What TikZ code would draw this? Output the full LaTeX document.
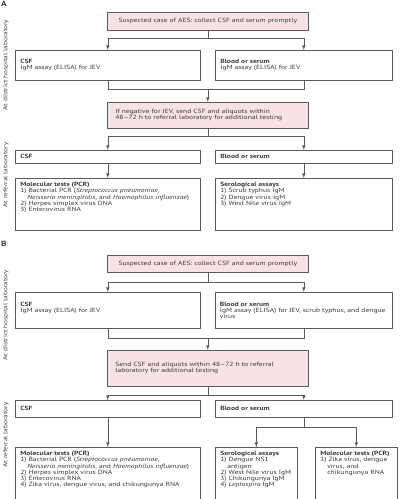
\documentclass[tikz,border=0pt]{standalone}
\usepackage{fontspec}
\setmainfont[FakeStretch=1.25]{PT Sans}
\usetikzlibrary{positioning,calc}
\definecolor{alertpink}{HTML}{F9E2E5}
\definecolor{boxline}{HTML}{5A5A5A}
\definecolor{inkgray}{HTML}{3A3A3A}
\newcommand{\toptext}[3]{\parbox[t][#2][t]{#1}{\raggedright #3}}

\begin{document}
\begin{tikzpicture}[x=1pt, y=-1pt, >=latex,
  every node/.style={font=\fontsize{6.05}{6.2}\selectfont, text=inkgray},
  labbox/.style={draw=boxline, fill=white, line width=0.6pt, anchor=north west,
    align=left, inner xsep=5pt, inner ysep=0pt},
  listbox/.style={draw=boxline, fill=white, line width=0.6pt, anchor=north west,
    inner xsep=5pt, inner ysep=4pt},
  alertbox/.style={draw=boxline, fill=alertpink, line width=0.6pt, anchor=north west,
    minimum width=201pt, inner xsep=8pt, inner ysep=0pt},
  sidelabel/.style={rotate=90, font=\fontsize{5.8}{6}\selectfont},
  panel/.style={font=\fontsize{7.5}{8}\selectfont\bfseries, anchor=north west, inner sep=0pt},
  link/.style={draw=boxline, line width=0.6pt}]
  \useasboundingbox (0,0) rectangle (400,499);

  % ---------------- panel A ----------------
  \node[panel] (panA) at (1,1) {A};
  \node[sidelabel] (distA) at (6,65) {At district hospital laboratory};
  \node[sidelabel] (refA) at (6,175) {At referral laboratory};

  \node[alertbox, minimum height=18pt] (susA) at (107,12)
    {Suspected case of AES: collect CSF and serum promptly};
  \node[labbox, minimum height=30pt, text width=175pt] (csfA) at (15,50)
    {\textbf{CSF}\\IgM assay (ELISA) for JEV};
  \node[labbox, minimum height=30pt, text width=167pt] (bldA) at (215,50)
    {\textbf{Blood or serum}\\IgM assay (ELISA) for JEV};
  \node[alertbox, minimum height=26pt, align=left, text width=185pt] (negA) at (107,102)
    {If negative for JEV, send CSF and aliquots within\\48--72 h to referral laboratory for additional testing};
  \node[labbox, minimum height=13pt, text width=175pt] (csfA2) at (15,150) {\textbf{CSF}};
  \node[labbox, minimum height=13pt, text width=167pt] (bldA2) at (215,150) {\textbf{Blood or serum}};
  \node[listbox] (molA) at (15,178) {\toptext{175pt}{44pt}{%
    \textbf{Molecular tests (PCR)}\\
    1) Bacterial PCR (\textit{Streptococcus pneumoniae,}\\
    \hspace*{7pt}\textit{Neisseria meningitidis}, and \textit{Haemophilus influenzae})\\
    2) Herpes simplex virus DNA\\
    3) Enterovirus RNA}};
  \node[listbox] (serA) at (215,178) {\toptext{167pt}{44pt}{%
    \textbf{Serological assays}\\
    1) Scrub typhus IgM\\
    2) Dengue virus IgM\\
    3) West Nile virus IgM}};

  % connectors A
  \draw[link,->] (susA.south) -- ++(0,8) -| (csfA.north);
  \draw[link,->] (susA.south) -- ++(0,8) -| (bldA.north);
  \draw[link] (csfA.south) -- ++(0,9) -| (bldA.south);
  \draw[link,->] (csfA.south) ++(0,9) -| (negA.north);
  \draw[link,->] (negA.south) -- ++(0,8) -| (csfA2.north);
  \draw[link,->] (negA.south) -- ++(0,8) -| (bldA2.north);
  \draw[link,->] (csfA2.south) -- (molA.north);
  \draw[link,->] (bldA2.south) -- (serA.north);

  % ---------------- panel B ----------------
  \node[panel] (panB) at (1,241) {B};
  \node[sidelabel] (distB) at (6,315) {At district hospital laboratory};
  \node[sidelabel] (refB) at (6,435) {At referral laboratory};

  \node[alertbox, minimum height=17pt] (susB) at (107,255)
    {Suspected case of AES: collect CSF and serum promptly};
  \node[labbox, minimum height=36pt, text width=175pt] (csfB) at (15,292)
    {\textbf{CSF}\\IgM assay (ELISA) for JEV\\\mbox{}};
  \node[labbox, minimum height=36pt, text width=168pt, inner xsep=4.5pt] (bldB) at (215,292)
    {\textbf{Blood or serum}\\IgM assay (ELISA) for JEV, scrub typhus, and dengue\\virus};
  \node[alertbox, minimum height=36pt, align=left, text width=185pt] (negB) at (107,350)
    {Send CSF and aliquots within 48--72 h to referral\\laboratory for additional testing};
  \node[labbox, minimum height=17pt, text width=175pt] (csfB2) at (15,400) {\textbf{CSF}};
  \node[labbox, minimum height=17pt, text width=167pt] (bldB2) at (215,400) {\textbf{Blood or serum}};
  \node[listbox] (molB) at (15,447) {\toptext{175pt}{45pt}{%
    \textbf{Molecular tests (PCR)}\\
    1) Bacterial PCR (\textit{Streptococcus pneumoniae,}\\
    \hspace*{7pt}\textit{Neisseria meningitidis}, and \textit{Haemophilus influenzae})\\
    2) Herpes simplex virus DNA\\
    3) Enterovirus RNA\\
    4) Zika virus, dengue virus, and chikungunya RNA}};
  \node[listbox] (serB) at (215,447) {\toptext{72pt}{45pt}{%
    \textbf{Serological assays}\\
    1) Dengue NS1\\
    \hspace*{7pt}antigen\\
    2) West Nile virus IgM\\
    3) Chikungunya IgM\\
    4) \textit{Leptospira} IgM}};
  \node[listbox] (molB2) at (315,447) {\toptext{72pt}{45pt}{%
    \textbf{Molecular tests (PCR)}\\
    1) Zika virus, dengue\\
    \hspace*{7pt}virus, and\\
    \hspace*{7pt}chikungunya RNA}};

  % connectors B
  \draw[link,->] (susB.south) -- ++(0,10) -| (csfB.north);
  \draw[link,->] (susB.south) -- ++(0,10) -| (bldB.north);
  \draw[link] (csfB.south) -- ++(0,10) -| (bldB.south);
  \draw[link,->] (csfB.south) ++(0,10) -| (negB.north);
  \draw[link,->] (negB.south) -- ++(0,9) -| (csfB2.north);
  \draw[link,->] (negB.south) -- ++(0,9) -| (bldB2.north);
  \draw[link,->] (csfB2.south) -- (molB.north);
  \draw[link,->] (bldB2.south) -- ++(0,10) -| (serB.north);
  \draw[link,->] (bldB2.south) -- ++(0,10) -| (molB2.north);
\end{tikzpicture}
\end{document}
